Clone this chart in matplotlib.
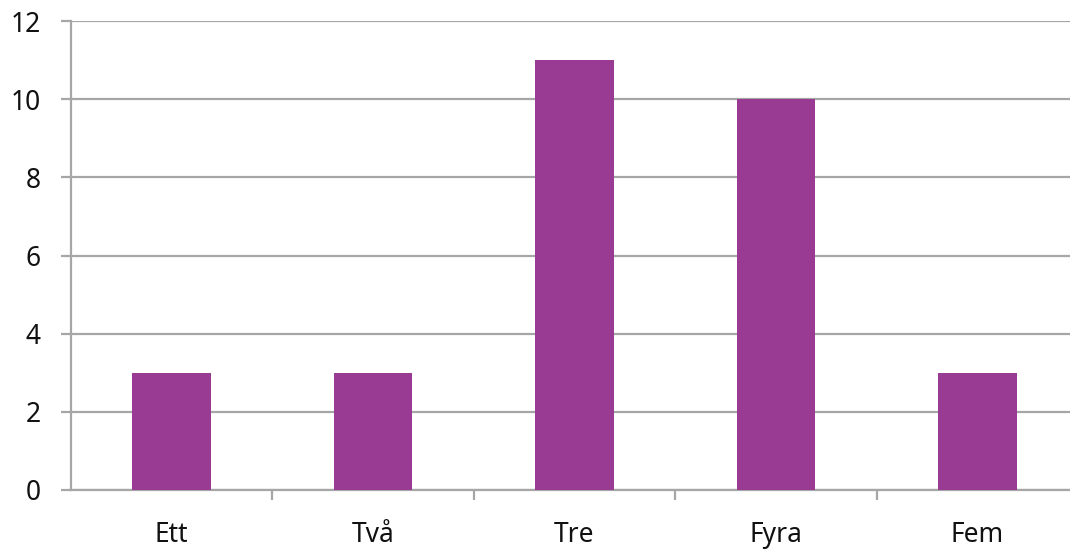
import numpy as np
import matplotlib.pyplot as plt

categories = ['Ett', 'Två', 'Tre', 'Fyra', 'Fem']
values = [3, 3, 11, 10, 3]
y_ticks = [0, 2, 4, 6, 8, 10, 12]

plt.rcParams['font.family'] = ['Noto Sans', 'DejaVu Sans']

fig = plt.figure(figsize=[10.7, 5.49], dpi=100)
W, H = 1070, 549
ax = fig.add_axes([71 / W, (H - 490) / H, (1078 - 71) / W, (490 - 21) / H])

x = np.arange(len(categories))
ax.bar(x, values, width=0.39, color='#993A93', zorder=3)

ax.set_ylim(0, 12)
ax.set_xlim(-0.5, len(categories) - 0.5)
ax.set_yticks(y_ticks)
ax.set_yticklabels([str(t) for t in y_ticks], fontsize=19, color='#111111')
ax.yaxis.grid(True, color='#A6A6A6', linewidth=1.6, zorder=0)
ax.tick_params(axis='y', length=7, width=1.6, color='#A6A6A6', pad=15)

# category labels at centers, tick marks at boundaries
ax.set_xticks(x)
ax.set_xticklabels(categories, fontsize=19, color='#111111')
ax.tick_params(axis='x', which='major', length=0, pad=22)
ax.set_xticks(np.arange(len(categories) - 1) + 0.5, minor=True)
ax.tick_params(axis='x', which='minor', length=7, width=1.6, color='#A6A6A6')

for side in ['top', 'right']:
    ax.spines[side].set_visible(False)
for side in ['left', 'bottom']:
    ax.spines[side].set_color('#A6A6A6')
    ax.spines[side].set_linewidth(1.6)

fig.savefig('out.png', dpi=100)
